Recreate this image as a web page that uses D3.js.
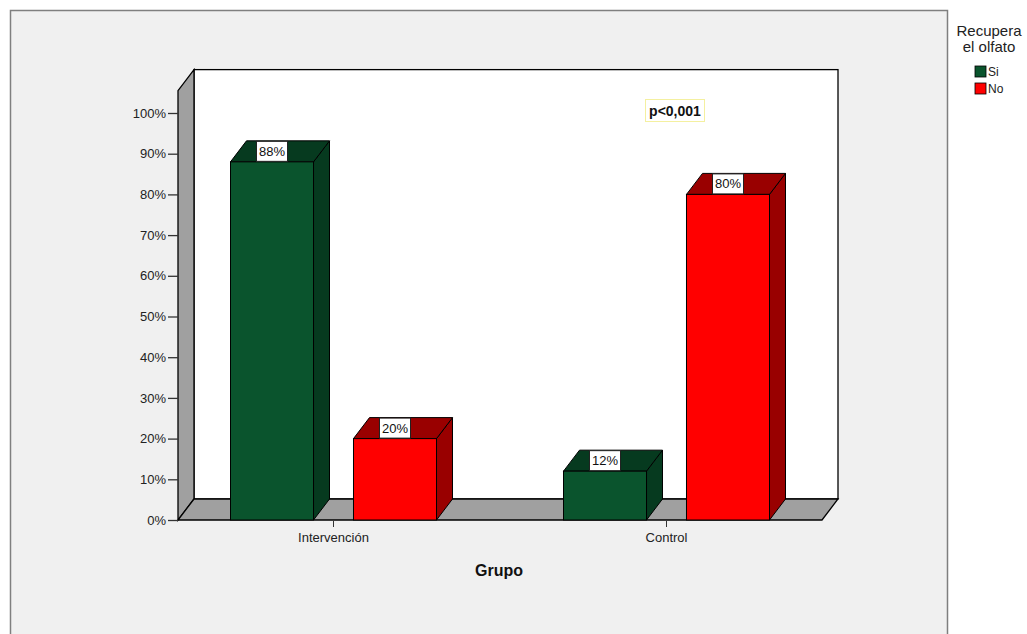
<!DOCTYPE html>
<html>
<head>
<meta charset="utf-8">
<script src="https://cdn.jsdelivr.net/npm/d3@7"></script>
<style>
  html, body { margin: 0; padding: 0; background: #ffffff; }
  svg { display: block; }
  text { font-family: "Liberation Sans", Arial, sans-serif; }
</style>
</head>
<body>
<svg id="chart" width="1027" height="634"></svg>
<script>
// Recuperación del olfato por grupo
const groups = ["Intervención", "Control"];
const seriesKeys = ["Si", "No"];
const siValues = [0.88, 0.12];
const noValues = [0.20, 0.80];
const yTicks = [0, 0.1, 0.2, 0.3, 0.4, 0.5, 0.6, 0.7, 0.8, 0.9, 1.0];
const legendTitle = ["Recupera", "el olfato"];
const annotation = "p<0,001";

const frontColor = { Si: "#0a542d", No: "#ff0000" };
const darkColor = { Si: "#063a1f", No: "#990000" };

const svg = d3.select("#chart");

// outer panel
svg.append("rect")
  .attr("x", 10.5).attr("y", 10.5).attr("width", 937).attr("height", 640)
  .attr("fill", "#f0f0f0").attr("stroke", "#7f7f7f").attr("stroke-width", 1.5);

// depth of the 3D effect
const dx = 16, dy = -21;

const x = d3.scaleBand().domain(groups).range([167, 833]);
const xs = d3.scaleBand().domain(seriesKeys).range([-103, 103]).paddingInner(0.325);
const y = d3.scaleLinear().domain([0, 1]).range([520, 113]);

const floorY = y(0);
const wallTop = y(1.055);
const xLeft = 178, xRight = 822;

// back wall
svg.append("rect")
  .attr("x", xLeft + dx).attr("y", wallTop + dy)
  .attr("width", xRight - xLeft).attr("height", floorY - wallTop)
  .attr("fill", "#ffffff").attr("stroke", "#000").attr("stroke-width", 1.3);

// left wall
svg.append("polygon")
  .attr("points", [[xLeft, floorY], [xLeft, wallTop], [xLeft + dx, wallTop + dy], [xLeft + dx, floorY + dy]].map(p => p.join(",")).join(" "))
  .attr("fill", "#a0a0a0").attr("stroke", "#000").attr("stroke-width", 1.3);

// floor
svg.append("polygon")
  .attr("points", [[xLeft, floorY], [xRight, floorY], [xRight + dx, floorY + dy], [xLeft + dx, floorY + dy]].map(p => p.join(",")).join(" "))
  .attr("fill", "#a0a0a0").attr("stroke", "#000").attr("stroke-width", 1.3);

// y axis
const yAxis = d3.axisLeft(y).tickValues(yTicks).tickFormat(d3.format(".0%")).tickSize(10).tickPadding(2);
const yg = svg.append("g").attr("transform", `translate(${xLeft},0)`).call(yAxis);
yg.select(".domain").remove();
yg.selectAll(".tick line").attr("stroke", "#333").attr("stroke-width", 1.3);
yg.selectAll(".tick text").attr("font-size", 13).attr("fill", "#222")
  .attr("font-family", "'Liberation Sans', Arial, sans-serif");

// x axis
const xAxis = d3.axisBottom(x).tickSize(6).tickPadding(6);
const xg = svg.append("g").attr("transform", `translate(0,${floorY + 1})`).call(xAxis);
xg.select(".domain").remove();
xg.selectAll(".tick line").attr("stroke", "#333");
xg.selectAll(".tick text").attr("font-size", 13).attr("fill", "#222")
  .attr("font-family", "'Liberation Sans', Arial, sans-serif");

svg.append("text")
  .attr("x", 499).attr("y", 576).attr("text-anchor", "middle")
  .attr("font-size", 16).attr("font-weight", "bold").attr("fill", "#111")
  .text("Grupo");

// bars
const rows = [];
groups.forEach((g, i) => {
  rows.push({ group: g, key: "Si", value: siValues[i] });
  rows.push({ group: g, key: "No", value: noValues[i] });
});

const bars = svg.append("g").selectAll("g").data(rows).join("g");
bars.each(function (d) {
  const gSel = d3.select(this);
  const x0 = x(d.group) + x.bandwidth() / 2 + xs(d.key);
  const w = xs.bandwidth();
  const yt = y(d.value);
  // side face
  gSel.append("polygon")
    .attr("points", [[x0 + w, floorY], [x0 + w, yt], [x0 + w + dx, yt + dy], [x0 + w + dx, floorY + dy]].map(p => p.join(",")).join(" "))
    .attr("fill", darkColor[d.key]).attr("stroke", "#000").attr("stroke-width", 1);
  // top face
  gSel.append("polygon")
    .attr("points", [[x0, yt], [x0 + w, yt], [x0 + w + dx, yt + dy], [x0 + dx, yt + dy]].map(p => p.join(",")).join(" "))
    .attr("fill", darkColor[d.key]).attr("stroke", "#000").attr("stroke-width", 1);
  // front face
  gSel.append("rect")
    .attr("x", x0).attr("y", yt).attr("width", w).attr("height", floorY - yt)
    .attr("fill", frontColor[d.key]).attr("stroke", "#000").attr("stroke-width", 1);
  // value label
  const cx = x0 + w / 2;
  const lab = d3.format(".0%")(d.value);
  gSel.append("rect")
    .attr("x", cx - 15.5).attr("y", yt + dy + 0.5).attr("width", 31).attr("height", 20)
    .attr("fill", "#fff").attr("stroke", "#222").attr("stroke-width", 1);
  gSel.append("text")
    .attr("x", cx).attr("y", yt + dy + 15).attr("text-anchor", "middle")
    .attr("font-size", 13).attr("fill", "#111").text(lab);
});

// annotation
svg.append("rect")
  .attr("x", 645.5).attr("y", 99.5).attr("width", 59).attr("height", 22)
  .attr("fill", "#fff").attr("stroke", "#f4f0a0").attr("stroke-width", 1);
svg.append("text")
  .attr("x", 675).attr("y", 116).attr("text-anchor", "middle")
  .attr("font-size", 14).attr("font-weight", "bold").attr("fill", "#111")
  .text(annotation);

// legend
svg.append("text")
  .attr("x", 989).attr("y", 36).attr("text-anchor", "middle")
  .attr("font-size", 15).attr("fill", "#222")
  .selectAll("tspan").data(legendTitle).join("tspan")
  .attr("x", 989).attr("dy", (d, i) => i === 0 ? 0 : 16).text(d => d);

const leg = svg.append("g").selectAll("g").data(seriesKeys).join("g")
  .attr("transform", (d, i) => `translate(975,${66 + i * 17})`);
leg.append("rect").attr("width", 11).attr("height", 11)
  .attr("fill", d => frontColor[d]).attr("stroke", "#000").attr("stroke-width", 0.8);
leg.append("text").attr("x", 13).attr("y", 10).attr("font-size", 12).attr("fill", "#222").text(d => d);
</script>
</body>
</html>
